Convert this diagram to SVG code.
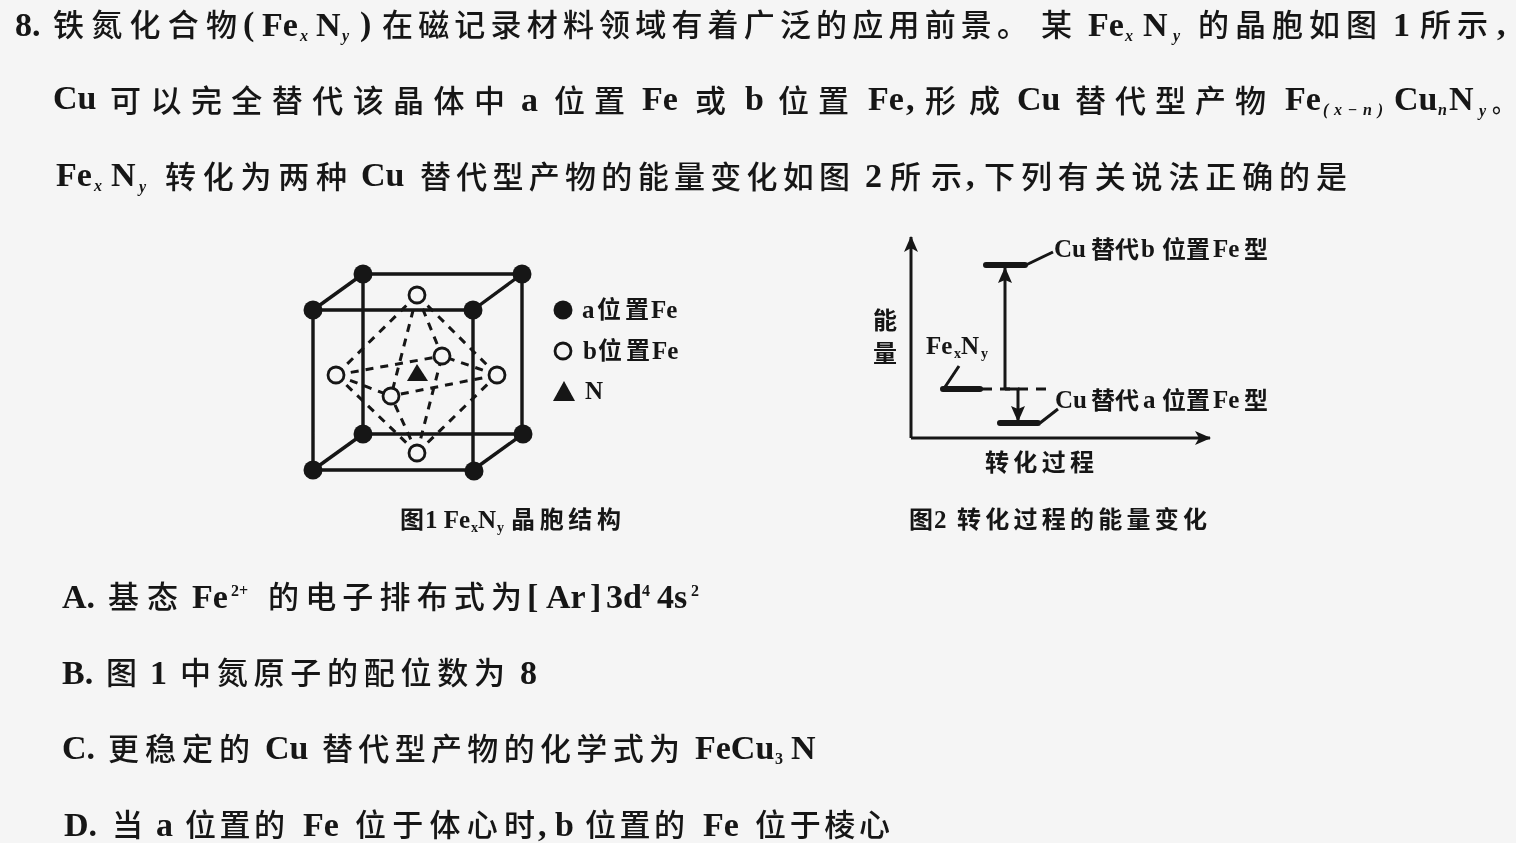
<svg xmlns="http://www.w3.org/2000/svg" width="1516" height="843" viewBox="0 0 1516 843">
<style>
text{fill:#141414;font-family:"Liberation Serif","Noto Sans CJK SC",serif;font-weight:700}
.t{font-size:34px}
.c{font-family:"Noto Sans CJK SC","Liberation Serif",sans-serif;font-size:31px;font-weight:500}
.s{font-size:16px}
.l{font-size:25px}
.lc{font-family:"Noto Sans CJK SC",sans-serif;font-size:24px;font-weight:700}
.sl{font-size:14px}
.e{stroke:#141414;stroke-width:3.4;fill:none}
.d{stroke:#141414;stroke-width:3;fill:none;stroke-dasharray:8 7}
.a{fill:#141414}
.b{fill:#f5f5f5;stroke:#141414;stroke-width:2.8}
.x{stroke:#141414;stroke-width:3;fill:none}
.lv{stroke:#141414;stroke-width:6;fill:none;stroke-linecap:round}
</style>
<defs>
<filter id="soft" x="0" y="0" width="1" height="1"><feGaussianBlur stdDeviation="0.45"/></filter>
<marker id="ah" markerWidth="18" markerHeight="14" refX="15" refY="7" orient="auto" markerUnits="userSpaceOnUse"><path d="M0 0L16 7L0 14L4 7Z" fill="#141414"/></marker>
<marker id="ahs" markerWidth="16" markerHeight="14" refX="15" refY="7" orient="auto" markerUnits="userSpaceOnUse"><path d="M0 0L16 7L0 14L3 7Z" fill="#141414"/></marker>
</defs>
<rect width="1516" height="843" fill="#f5f5f5"/>
<g filter="url(#soft)">
<g id="question">
<text class="t" x="15" y="36">8.</text>
<text class="c" x="53" y="36" textLength="184">铁氮化合物</text>
<text class="t" x="243" y="35">(</text>
<text class="t" x="262" y="36">Fe</text>
<text class="s" x="300" y="41" font-style="italic">x</text>
<text class="t" x="316" y="36">N</text>
<text class="s" x="342" y="41" font-style="italic">y</text>
<text class="t" x="360" y="35">)</text>
<text class="c" x="382" y="36" textLength="646">在磁记录材料领域有着广泛的应用前景。</text>
<text class="c" x="1041" y="36">某</text>
<text class="t" x="1088" y="36">Fe</text>
<text class="s" x="1125" y="41" font-style="italic">x</text>
<text class="t" x="1143" y="36">N</text>
<text class="s" x="1173" y="41" font-style="italic">y</text>
<text class="c" x="1198" y="36" textLength="179">的晶胞如图</text>
<text class="t" x="1393" y="36">1</text>
<text class="c" x="1420" y="36" textLength="68">所示</text>
<text class="t" x="1497" y="35">,</text>

<text class="t" x="53" y="109">Cu</text>
<text class="c" x="110" y="112" textLength="395">可以完全替代该晶体中</text>
<text class="t" x="521" y="111">a</text>
<text class="c" x="554" y="112" textLength="71">位置</text>
<text class="t" x="642" y="110">Fe</text>
<text class="c" x="695" y="112">或</text>
<text class="t" x="745" y="110">b</text>
<text class="c" x="778" y="112" textLength="71">位置</text>
<text class="t" x="868" y="110">Fe</text>
<text class="t" x="906" y="110">,</text>
<text class="c" x="925" y="112" textLength="75">形成</text>
<text class="t" x="1017" y="110">Cu</text>
<text class="c" x="1075" y="112" textLength="191">替代型产物</text>
<text class="t" x="1285" y="110">Fe</text>
<text class="s" x="1323" y="115" font-style="italic" textLength="60">(x−n)</text>
<text class="t" x="1394" y="110">Cu</text>
<text class="s" x="1438" y="115" font-style="italic">n</text>
<text class="t" x="1449" y="110">N</text>
<text class="s" x="1479" y="116" font-style="italic">y</text>
<text class="c" x="1492" y="112" style="font-size:23px">。</text>

<text class="t" x="56" y="186">Fe</text>
<text class="s" x="94" y="191" font-style="italic">x</text>
<text class="t" x="111" y="186">N</text>
<text class="s" x="139" y="192" font-style="italic">y</text>
<text class="c" x="165" y="188" textLength="182">转化为两种</text>
<text class="t" x="361" y="186">Cu</text>
<text class="c" x="420" y="188" textLength="430">替代型产物的能量变化如图</text>
<text class="t" x="865" y="187">2</text>
<text class="c" x="890" y="188" textLength="72">所示</text>
<text class="t" x="966" y="186">,</text>
<text class="c" x="984" y="188" textLength="363">下列有关说法正确的是</text>

<text class="t" x="62" y="608">A.</text>
<text class="c" x="108" y="608" textLength="70">基态</text>
<text class="t" x="192" y="608">Fe</text>
<text class="s" x="231" y="596">2+</text>
<text class="c" x="268" y="608" textLength="254">的电子排布式为</text>
<text class="t" x="527" y="608">[</text>
<text class="t" x="546" y="608">Ar</text>
<text class="t" x="590" y="608">]</text>
<text class="t" x="606" y="608">3d</text>
<text class="s" x="642" y="596">4</text>
<text class="t" x="657" y="608">4s</text>
<text class="s" x="691" y="596">2</text>

<text class="t" x="62" y="684">B.</text>
<text class="c" x="106" y="684">图</text>
<text class="t" x="150" y="684">1</text>
<text class="c" x="180" y="684" textLength="325">中氮原子的配位数为</text>
<text class="t" x="520" y="684">8</text>

<text class="t" x="62" y="759">C.</text>
<text class="c" x="108" y="760" textLength="142">更稳定的</text>
<text class="t" x="265" y="759">Cu</text>
<text class="c" x="322" y="760" textLength="358">替代型产物的化学式为</text>
<text class="t" x="695" y="759">FeCu</text>
<text class="s" x="775" y="764">3</text>
<text class="t" x="791" y="759">N</text>

<text class="t" x="64" y="836">D.</text>
<text class="c" x="112" y="836">当</text>
<text class="t" x="156" y="836">a</text>
<text class="c" x="185" y="836" textLength="100">位置的</text>
<text class="t" x="303" y="836">Fe</text>
<text class="c" x="355" y="836" textLength="180">位于体心时</text>
<text class="t" x="538" y="836">,</text>
<text class="t" x="555" y="836">b</text>
<text class="c" x="585" y="836" textLength="100">位置的</text>
<text class="t" x="703" y="836">Fe</text>
<text class="c" x="755" y="836" textLength="135">位于棱心</text>
</g>

<g id="connectors">
<path class="e" d="M363 274H522V434H363ZM313 310H473V470H313ZM313 310L363 274M473 310L522 274M313 470L363 434M473 470L523 434"/>
<path class="d" d="M417 295L336 375M417 295L497 375M417 295L442 356M417 295L391 396M417 453L336 375M417 453L497 375M417 453L442 356M417 453L391 396M336 375L442 356M336 375L391 396M497 375L442 356M497 375L391 396"/>
<path class="x" d="M911 438V237" marker-end="url(#ah)"/>
<path class="x" d="M911 438H1210" marker-end="url(#ah)"/>
<path class="lv" d="M986 265H1025M943 389H980M1000 423H1038"/>
<path class="x" d="M1026 265L1053 252M945 387L959 366M1040 423L1058 409" stroke-width="2.4"/>
<path class="x" d="M982 389H1046" stroke-dasharray="10 8" stroke-width="2.2"/>
<path class="x" d="M1005 389V268" marker-end="url(#ahs)" stroke-width="2.4"/>
<path class="x" d="M1005 389H1018V421" marker-end="url(#ahs)" stroke-width="2.4"/>
</g>

<g id="a-sites">
<circle class="a" cx="363" cy="274" r="9.5"/><circle class="a" cx="522" cy="274" r="9.5"/>
<circle class="a" cx="313" cy="310" r="9.5"/><circle class="a" cx="473" cy="310" r="9.5"/>
<circle class="a" cx="363" cy="434" r="9.5"/><circle class="a" cx="523" cy="434" r="9.5"/>
<circle class="a" cx="313" cy="470" r="9.5"/><circle class="a" cx="474" cy="471" r="9.5"/>
</g>
<g id="b-sites">
<circle class="b" cx="417" cy="295" r="8"/><circle class="b" cx="417" cy="453" r="8"/>
<circle class="b" cx="336" cy="375" r="8"/><circle class="b" cx="497" cy="375" r="8"/>
<circle class="b" cx="442" cy="356" r="8"/><circle class="b" cx="391" cy="396" r="8"/>
</g>
<g id="n-site"><path class="a" d="M417 364L428 381H407Z"/></g>

<g id="legend">
<circle class="a" cx="563" cy="310" r="9.5"/>
<circle class="b" cx="563" cy="351" r="8"/>
<path class="a" d="M564 381L575 401H553Z"/>
<text class="l" x="582" y="318">a</text><text class="lc" x="597" y="318" textLength="52">位置</text><text class="l" x="651" y="318">Fe</text>
<text class="l" x="583" y="359">b</text><text class="lc" x="598" y="359" textLength="52">位置</text><text class="l" x="652" y="359">Fe</text>
<text class="l" x="585" y="399">N</text>
</g>
<g id="caption-1">
<text class="lc" x="400" y="528">图</text><text class="l" x="425" y="528">1 Fe</text><text class="sl" x="471" y="532">x</text><text class="l" x="478" y="528">N</text><text class="sl" x="497" y="532">y</text><text class="lc" x="511" y="528" textLength="110">晶胞结构</text>
</g>

<g id="level-b"><text class="l" x="1054" y="257">Cu</text><text class="lc" x="1091" y="258" textLength="48">替代</text><text class="l" x="1141" y="257">b</text><text class="lc" x="1162" y="258" textLength="48">位置</text><text class="l" x="1213" y="257">Fe</text><text class="lc" x="1244" y="258">型</text></g>
<g id="level-a"><text class="l" x="1055" y="408">Cu</text><text class="lc" x="1091" y="409" textLength="48">替代</text><text class="l" x="1143" y="408">a</text><text class="lc" x="1162" y="409" textLength="48">位置</text><text class="l" x="1213" y="408">Fe</text><text class="lc" x="1244" y="409">型</text></g>
<g id="level-start"><text class="l" x="926" y="354">Fe</text><text class="sl" x="954" y="358">x</text><text class="l" x="961" y="354">N</text><text class="sl" x="981" y="358">y</text></g>
<g id="axis-labels">
<text class="lc" x="873" y="329">能</text>
<text class="lc" x="873" y="362">量</text>
<text class="lc" x="985" y="471" textLength="109">转化过程</text>
</g>
<g id="caption-2">
<text class="lc" x="909" y="528">图</text><text class="l" x="934" y="528">2</text><text class="lc" x="957" y="528" textLength="250">转化过程的能量变化</text>
</g>
</g>
</svg>
